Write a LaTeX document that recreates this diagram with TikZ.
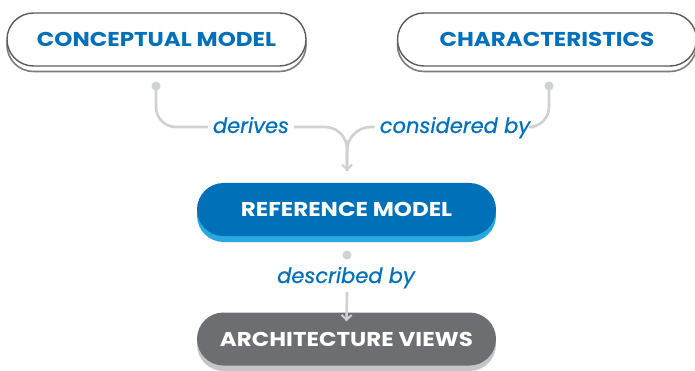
\documentclass[tikz,border=0pt]{standalone}
\usepackage{fontspec}
\setmainfont{Poppins}
\newfontfamily\boxfont{Poppins}[FakeStretch=1.15]
\newfontfamily\lblfont{Poppins}[FakeBold=0.6]
\usetikzlibrary{arrows.meta}
\definecolor{txtblue}{HTML}{0070BA}
\definecolor{refblue}{HTML}{0070B9}
\definecolor{refshadow}{HTML}{29A8E0}
\definecolor{archgray}{HTML}{6D6E71}
\definecolor{archshadow}{HTML}{C4C5C7}
\definecolor{conngray}{HTML}{D0D1D3}
\definecolor{outline}{HTML}{5A5B5D}
\tikzset{
  box/.style={rectangle, rounded corners=26.5pt, minimum width=299pt, minimum height=53pt, inner sep=0pt,
    font=\boxfont\fontsize{20}{22}\selectfont\bfseries},
  wbox/.style={box, draw=outline, line width=1.4pt, fill=white, text=txtblue},
  wshadow/.style={box, draw=outline!80, line width=1.6pt, fill=white},
  lbl/.style={font=\lblfont\fontsize{21}{23}\selectfont\itshape, text=txtblue, inner sep=0pt},
  conn/.style={draw=conngray, line width=2.6pt},
  dot/.style={circle, fill=conngray, minimum size=9pt, inner sep=0pt},
  tip/.style={-{Straight Barb[length=5pt,width=10pt,line width=2pt]}}
}
\begin{document}
\begin{tikzpicture}[x=1pt,y=-1pt]
\useasboundingbox (0,0) rectangle (695,371);
% top boxes
\node[wshadow] (cmS) at (156.5,45) {};
\node[wbox] (cm) at (156.5,39.5) {CONCEPTUAL MODEL};
\node[wshadow] (chS) at (547,45) {};
\node[wbox] (ch) at (547,39.5) {CHARACTERISTICS};
% reference model
\node[box, fill=refshadow] (rmS) at (346.5,215.5) {};
\node[box, fill=refblue, text=white] (rm) at (346.5,209.5) {REFERENCE MODEL};
% architecture views
\node[box, fill=archshadow] (avS) at (346.5,344.5) {};
\node[box, fill=archgray, text=white] (av) at (346.5,339) {ARCHITECTURE VIEWS};
% dots
\node[dot] (d1) at (156,86) {};
\node[dot] (d2) at (549,86) {};
\node[dot] (d3) at (347,255) {};
% labels
\node[lbl, anchor=base] (der) at (251,133) {derives};
\node[lbl, anchor=base] (con) at (455,133) {considered by};
\node[lbl, anchor=base] (des) at (346,283) {described by};
\coordinate (m) at (347,171);
\coordinate (a1) at (347,292);
% connectors
\draw[conn, rounded corners=20pt] (d1.center) |- ([xshift=-5pt]der.west |- 0,127);
\draw[conn, rounded corners=20pt] (d2.center) |- ([xshift=4pt]con.east |- 0,127);
\draw[conn, rounded corners=22pt] ([xshift=5pt]der.east |- 0,127) -| (m);
\draw[conn, rounded corners=24pt] ([xshift=-5pt]con.west |- 0,127) -| (m);
\draw[conn, tip] (347,140) -- (m);
\draw[conn, tip] (a1) -- ([yshift=-9pt]av.north);
\end{tikzpicture}
\end{document}
